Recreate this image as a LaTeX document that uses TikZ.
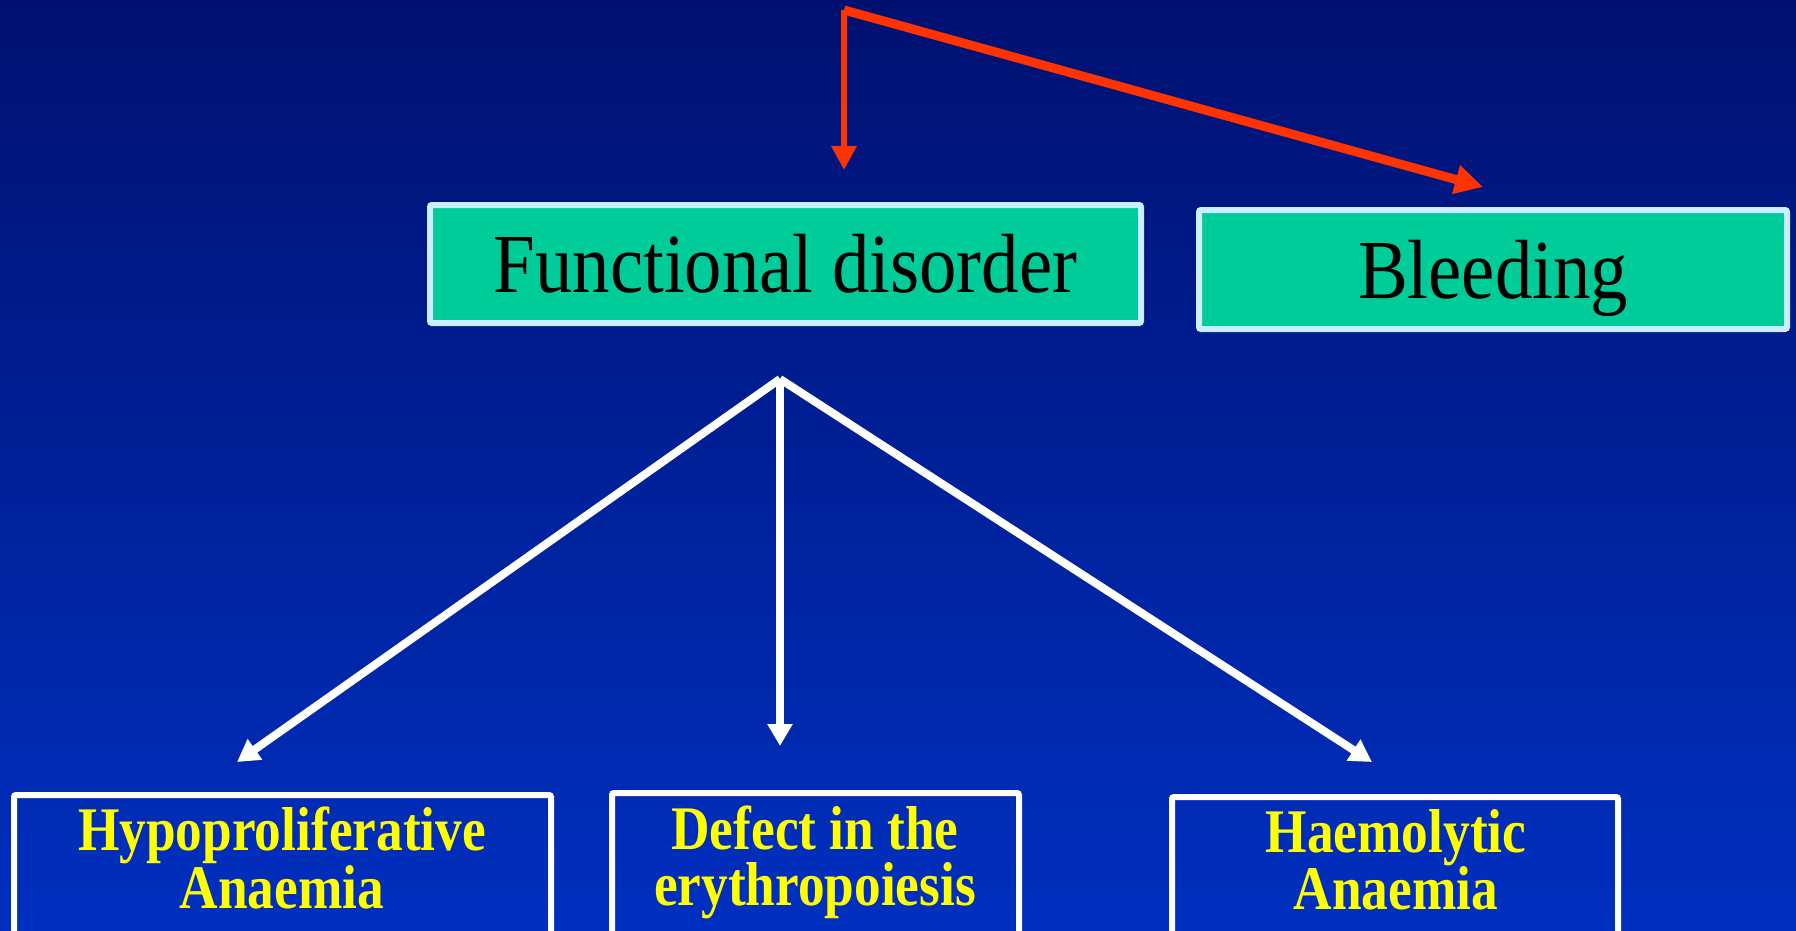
\documentclass[tikz,border=0pt]{standalone}
\usepackage{fontspec}
\setmainfont{Liberation Serif}
\newfontfamily\topfont[FakeStretch=0.89]{Liberation Serif}
\newfontfamily\botfont[FakeStretch=0.86]{Liberation Serif}
\usetikzlibrary{arrows.meta}
\definecolor{bgtop}{RGB}{0,16,112}
\definecolor{bgbot}{RGB}{0,48,192}
\definecolor{boxgreen}{RGB}{0,204,153}
\definecolor{rim}{RGB}{204,238,255}
\definecolor{redarrow}{RGB}{255,51,0}
\definecolor{txtyellow}{RGB}{255,255,0}
\tikzset{
  greenbox/.style={draw=rim, fill=boxgreen, line width=6pt, rounded corners=2pt,
    inner sep=0pt, text height=57pt, text depth=0pt,
    font=\topfont\fontsize{84}{90}\selectfont, text=black},
  bluebox/.style={draw=white, line width=6pt, rounded corners=2pt, inner sep=0pt, anchor=north},
  lbl/.style={font=\botfont\bfseries\fontsize{62}{56}\selectfont, text=txtyellow,
    align=center, inner sep=0pt},
  warrow/.style={draw=white, line width=8pt, -{Triangle[length=22pt,width=24pt]}},
  rarrow/.style={draw=redarrow, -{Triangle[length=24pt,width=24pt]}}
}
\begin{document}
\begin{tikzpicture}[x=1pt,y=-1pt]
\useasboundingbox (0,0) rectangle (1796,931);
\clip (0,0) rectangle (1796,931);
\shade[top color=bgtop, bottom color=bgbot] (0,0) rectangle (1796,931);

% top boxes
\node[greenbox, minimum width=711pt, minimum height=118pt] (fd) at (785.5,264) {Functional disorder};
\node[greenbox, minimum width=588pt, minimum height=119pt] (bl) at (1493,269.5) {Bleeding};

% bottom boxes
\node[bluebox, minimum width=537pt, minimum height=200pt] (hypo) at (282.5,792) {};
\node[bluebox, minimum width=407pt, minimum height=200pt] (defect) at (815.5,790) {};
\node[bluebox, minimum width=446pt, minimum height=200pt] (haemo) at (1395,794) {};

\node[lbl] (hypoT) at (282,858) {Hypoproliferative\\Anaemia};
\node[lbl] (defectT) at (815,862) {Defect in the\\erythropoiesis};
\node[lbl] (haemoT) at (1396,860) {Haemolytic\\Anaemia};

% white arrows
\coordinate (apex) at (780,379);
\coordinate (tipL) at (237,762);
\coordinate (tipC) at (780,746);
\coordinate (tipR) at (1372,762);
\draw[warrow] (apex) -- (tipL);
\draw[warrow] (apex) -- (tipC);
\draw[warrow] (apex) -- (tipR);

% red arrows
\coordinate (rc) at (844,10);
\coordinate (rv) at (844,170);
\coordinate (rd) at (1483,187);
\draw[rarrow, line width=6pt] (rc) -- (rv);
\draw[rarrow, line width=9pt, -{Triangle[length=28pt,width=28pt]}] (rc) -- (rd);
\end{tikzpicture}
\end{document}
